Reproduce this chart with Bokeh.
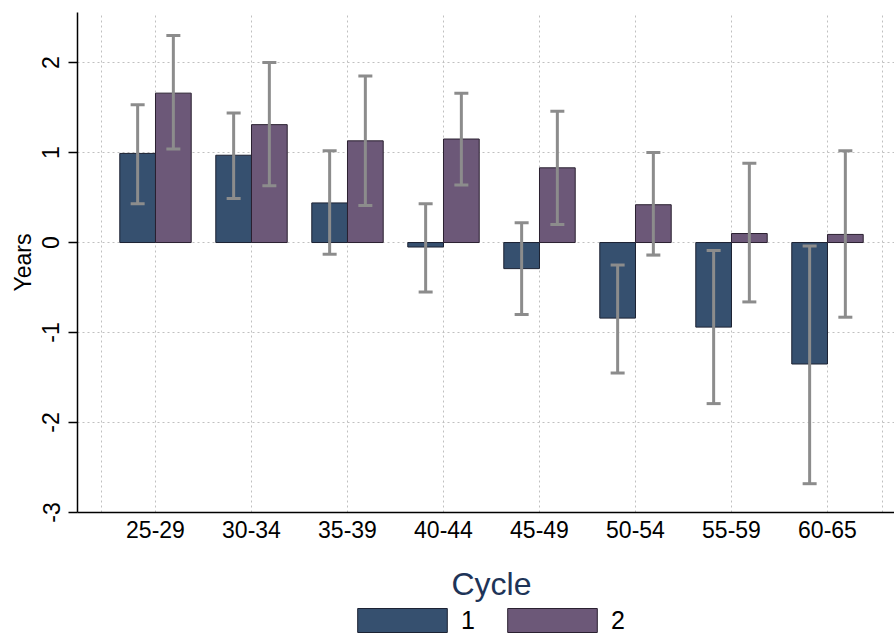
import numpy as np
from bokeh.plotting import figure
from bokeh.layouts import column
from bokeh.models import (ColumnDataSource, FixedTicker, Legend, LegendItem, Label,
                          Whisker, TeeHead, Range1d)
from bokeh.embed import file_html
from bokeh.resources import INLINE

# ---- data ----
age_groups = ["25-29", "30-34", "35-39", "40-44", "45-49", "50-54", "55-59", "60-65"]
cycle1 = [0.99, 0.97, 0.44, -0.05, -0.29, -0.84, -0.94, -1.35]
cycle1_lo = [0.43, 0.49, -0.13, -0.55, -0.80, -1.45, -1.79, -2.68]
cycle1_hi = [1.53, 1.44, 1.02, 0.43, 0.22, -0.25, -0.09, -0.04]
cycle2 = [1.66, 1.31, 1.13, 1.15, 0.83, 0.42, 0.10, 0.09]
cycle2_lo = [1.04, 0.63, 0.41, 0.64, 0.20, -0.14, -0.66, -0.83]
cycle2_hi = [2.30, 2.00, 1.85, 1.66, 1.46, 1.00, 0.88, 1.02]
y_ticks = [-3, -2, -1, 0, 1, 2]
series_names = ["1", "2"]
legend_title = "Cycle"
y_title = "Years"

# ---- styles ----
C1 = "#36506f"
C2 = "#6c5878"
ERR = "#8c8c8c"
FONT = "Liberation Sans"
BW = 0.372  # bar width in group units

pos = np.arange(1, len(age_groups) + 1, dtype=float)
src1 = ColumnDataSource(dict(x=pos - BW / 2, y=cycle1, lo=cycle1_lo, hi=cycle1_hi))
src2 = ColumnDataSource(dict(x=pos + BW / 2, y=cycle2, lo=cycle2_lo, hi=cycle2_hi))

p = figure(width=894, height=550, output_backend="svg", toolbar_location=None,
           x_range=Range1d(0.1875, 8.698), y_range=Range1d(-3, 2.556),
           min_border_left=77, min_border_right=0, min_border_top=12, min_border_bottom=38)
p.outline_line_color = None
p.background_fill_color = "white"

r1 = p.vbar(x="x", top="y", bottom=0, width=BW, source=src1,
            fill_color=C1, line_color="#1c2233", line_width=1)
r2 = p.vbar(x="x", top="y", bottom=0, width=BW, source=src2,
            fill_color=C2, line_color="#2a2030", line_width=1)

for s in (src1, src2):
    w = Whisker(source=s, base="x", upper="hi", lower="lo", dimension="height",
                line_color=ERR, line_width=3, level="overlay",
                upper_head=TeeHead(size=14, line_color=ERR, line_width=3),
                lower_head=TeeHead(size=14, line_color=ERR, line_width=3))
    p.add_layout(w)

# axes
p.xaxis.ticker = FixedTicker(ticks=list(pos))
p.xaxis.major_label_overrides = {float(v): lab for v, lab in zip(pos, age_groups)}
p.xaxis.major_tick_out = 0
p.xaxis.major_tick_in = 0
p.xaxis.minor_tick_out = 0
p.xaxis.minor_tick_in = 0
p.xaxis.axis_line_color = "black"
p.xaxis.axis_line_width = 1.5
p.xaxis.major_label_text_font = FONT
p.xaxis.major_label_text_font_size = "23px"
p.xaxis.major_label_text_color = "black"
p.xaxis.major_label_standoff = 8

p.yaxis.ticker = FixedTicker(ticks=y_ticks)
p.yaxis.major_label_overrides = {v: str(v) for v in y_ticks}
p.yaxis.major_label_orientation = "vertical"
p.yaxis.major_tick_out = 9
p.yaxis.major_tick_in = 0
p.yaxis.minor_tick_out = 0
p.yaxis.minor_tick_in = 0
p.yaxis.major_tick_line_color = "black"
p.yaxis.major_tick_line_width = 1.5
p.yaxis.axis_line_color = "black"
p.yaxis.axis_line_width = 1.5
p.yaxis.major_label_text_font = FONT
p.yaxis.major_label_text_font_size = "23px"
p.yaxis.major_label_text_color = "black"
p.yaxis.major_label_standoff = 9
p.yaxis.axis_label = y_title
p.yaxis.axis_label_text_font = FONT
p.yaxis.axis_label_text_font_size = "23px"
p.yaxis.axis_label_text_font_style = "normal"
p.yaxis.axis_label_text_color = "black"
p.yaxis.axis_label_standoff = 4

# grids
p.xgrid.ticker = FixedTicker(ticks=[0.4375] + list(pos) + [8.57])
p.ygrid.ticker = FixedTicker(ticks=y_ticks)
for g in (p.xgrid, p.ygrid):
    g.grid_line_color = "#c0c0c0"
    g.grid_line_dash = "2 3"
    g.grid_line_width = 1

# ---- legend strip under the chart (its frame lines up with the chart's frame) ----
p2 = figure(width=894, height=85, output_backend="svg", toolbar_location=None,
            x_axis_location=None, y_axis_location=None,
            x_range=Range1d(0, 1), y_range=Range1d(10, 11),
            min_border_left=0, min_border_right=0, min_border_top=0, min_border_bottom=0)
p2.outline_line_color = None
p2.grid.visible = False
# same series, drawn outside this strip's range: only used for the legend keys
k1 = p2.vbar(x="x", top="y", bottom=0, width=BW, source=src1,
             fill_color=C1, line_color="#1c2233", line_width=1)
k2 = p2.vbar(x="x", top="y", bottom=0, width=BW, source=src2,
             fill_color=C2, line_color="#2a2030", line_width=1)

p2.add_layout(Label(x=414, y=52, x_units="screen", y_units="screen", text=legend_title,
                    text_align="center", text_baseline="alphabetic", text_font=FONT,
                    text_font_size="32px", text_color="#1e3458"))

legend = Legend(items=[LegendItem(label=series_names[0], renderers=[k1]),
                       LegendItem(label=series_names[1], renderers=[k2])],
                orientation="horizontal", location=(269, 0),
                glyph_width=112, glyph_height=30, label_height=30, label_text_font=FONT,
                label_text_font_size="25px", label_text_line_height=0.9,
                label_text_color="black",
                label_standoff=3, label_width=14, spacing=21, padding=0, margin=0,
                border_line_color=None, background_fill_alpha=0)
p2.add_layout(legend)

layout = column(p, p2, spacing=0)
open("out.html", "w").write(file_html(layout, INLINE))
